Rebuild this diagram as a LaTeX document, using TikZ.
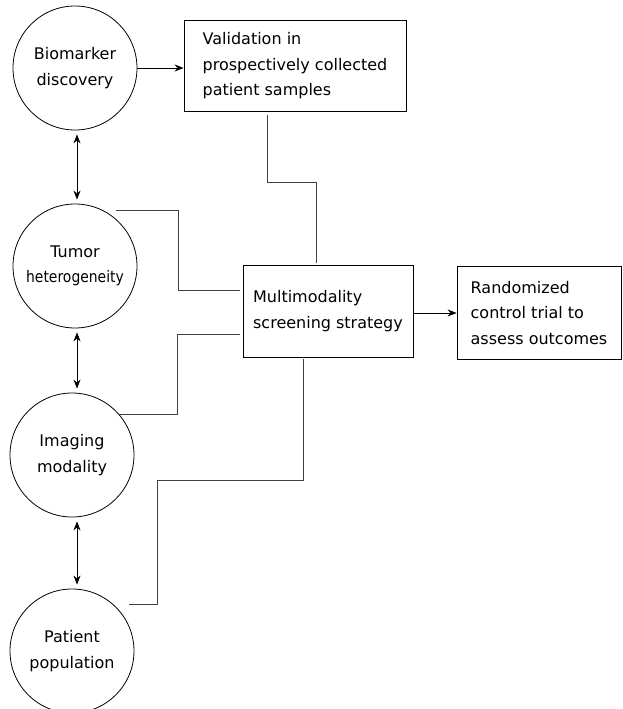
\documentclass[tikz,border=0pt]{standalone}
\usepackage{fontspec}
\usepackage{graphicx}
\setmainfont{DejaVu Sans}
\usetikzlibrary{arrows.meta}
\begin{document}
\begin{tikzpicture}[x=1pt,y=-1pt,
  every node/.style={font=\fontsize{16}{25.5}\selectfont},
  bubble/.style={draw, circle, line width=0.8pt, minimum size=124pt, inner sep=0pt, align=center},
  stage/.style={draw, rectangle, line width=0.8pt, inner sep=0pt, align=left},
  link/.style={draw, black!75, line width=0.9pt},
  flow/.style={draw, line width=0.8pt, -{Stealth[length=9pt,width=7pt]}},
  both/.style={draw, line width=0.8pt, {Stealth[length=9pt,width=7pt]}-{Stealth[length=9pt,width=7pt]}, shorten <=4pt, shorten >=4pt}]
\useasboundingbox (0,0) rectangle (623,709);
\node[bubble] (bio) at (75,68) {Biomarker\\discovery};
\node[bubble] (tum) at (75,266) {Tumor\\\scalebox{0.87}[1]{heterogeneity}};
\node[bubble] (img) at (72,455) {Imaging\\modality};
\node[bubble] (pat) at (72,651) {Patient\\population};
\node[stage, minimum width=222pt, minimum height=91pt] (val) at (295,66) {Validation in\\prospectively collected\\patient samples};
\node[stage, minimum width=170pt, minimum height=92pt] (mm) at (328,311) {Multimodality\\screening strategy};
\node[stage, minimum width=164pt, minimum height=93pt] (rct) at (539,313) {Randomized\\control trial to\\assess outcomes};
% arrows between the circles
\path[both] ([xshift=2pt]bio.south) -- ([xshift=2pt]bio.south |- tum.north);
\path[both] ([xshift=2pt]tum.south) -- ([xshift=2pt]tum.south |- img.north);
\path[both] ([xshift=5pt]img.south) -- ([xshift=5pt]img.south |- pat.north);
\path[flow] (bio.east) -- (bio.east -| val.west);
\path[flow] ([yshift=-2pt]mm.east) -- ([yshift=-2pt]mm.east -| rct.west);
% elbow lines into the screening box
\path[link] ([xshift=-28pt,yshift=-3pt]val.south) -- ++(0,68) -| ([xshift=-12pt,yshift=2pt]mm.north);
\path[link] ([xshift=12pt]tum.62) -- ++(62,0) |- ([xshift=-3pt,yshift=21pt]mm.west);
\path[link] ([xshift=-3pt,yshift=-23pt]mm.west) -- ++(-62,0) |- (img.41);
\path[link] ([xshift=-25pt,yshift=-2pt]mm.south) |- ++(-146,121) |- ([xshift=15pt]pat.48);
\end{tikzpicture}
\end{document}
